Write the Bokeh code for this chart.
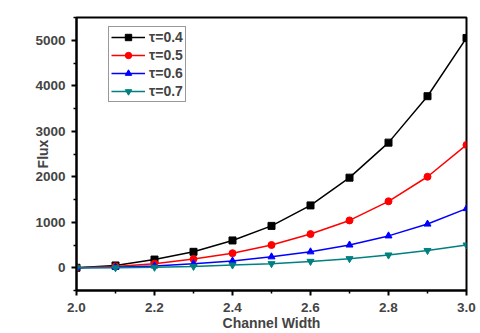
from bokeh.plotting import figure
from bokeh.models import Legend, LegendItem, Range1d, FixedTicker
from bokeh.embed import file_html
from bokeh.resources import INLINE

x = [2.0, 2.1, 2.2, 2.3, 2.4, 2.5, 2.6, 2.7, 2.8, 2.9, 3.0]
flux_04 = [0, 50, 180, 350, 600, 920, 1370, 1980, 2750, 3770, 5050]
flux_05 = [0, 30, 90, 190, 320, 500, 740, 1040, 1460, 2000, 2700]
flux_06 = [0, 10, 40, 90, 150, 240, 350, 500, 700, 960, 1300]
flux_07 = [0, 0, 10, 30, 60, 90, 140, 200, 280, 380, 500]
labels = ["τ=0.4", "τ=0.5", "τ=0.6", "τ=0.7"]
colors = ["#000000", "#ff0000", "#0000ff", "#008080"]
markers = ["square", "circle", "triangle", "inverted_triangle"]
x_ticks = [2.0, 2.2, 2.4, 2.6, 2.8, 3.0]
x_minor = [2.1, 2.3, 2.5, 2.7, 2.9]
y_ticks = [0, 1000, 2000, 3000, 4000, 5000]
y_minor = [-500, 500, 1500, 2500, 3500, 4500, 5500]

FONT = "Liberation Sans"

p = figure(width=476, height=333, output_backend="svg", toolbar_location=None,
           x_range=Range1d(2.0, 3.0), y_range=Range1d(-500, 5500),
           min_border_left=76, min_border_right=10, min_border_top=17, min_border_bottom=40)
p.background_fill_color = "white"
p.border_fill_color = "white"
p.outline_line_color = "black"
p.outline_line_width = 2
p.xgrid.visible = False
p.ygrid.visible = False

items = []
for ys, lab, c, m in zip([flux_04, flux_05, flux_06, flux_07], labels, colors, markers):
    r1 = p.line(x, ys, line_color=c, line_width=1.5)
    r2 = p.scatter(x, ys, marker=m, size=7, fill_color=c, line_color=c)
    items.append(LegendItem(label=lab, renderers=[r1, r2]))

legend = Legend(items=items, location=(32, 188))
legend.label_text_font = FONT
legend.label_text_font_style = "bold"
legend.label_text_font_size = "14px"
legend.border_line_color = "#333333"
legend.border_line_width = 1
legend.background_fill_alpha = 1
legend.glyph_width = 34
legend.glyph_height = 16
legend.label_height = 16
legend.spacing = 2
legend.padding = 2
legend.margin = 0
legend.label_standoff = 4
p.add_layout(legend)

for ax in (p.xaxis[0], p.yaxis[0]):
    ax.axis_line_width = 2
    ax.major_tick_line_width = 2
    ax.minor_tick_line_width = 1.5
    ax.major_tick_in = 0
    ax.major_tick_out = 5
    ax.minor_tick_in = 0
    ax.minor_tick_out = 3
    ax.major_label_text_font = FONT
    ax.major_label_text_font_style = "bold"
    ax.major_label_text_font_size = "13.5px"
    ax.axis_label_text_font = FONT
    ax.axis_label_text_font_style = "bold"
    ax.axis_label_text_font_size = "14px"

p.xaxis[0].ticker = FixedTicker(ticks=x_ticks, minor_ticks=x_minor)
p.xaxis.major_label_overrides = {t: f"{t:.1f}" for t in x_ticks}
p.xaxis.axis_label = "Channel Width"
p.xaxis.axis_label_standoff = 0
p.xaxis.major_label_standoff = 7

p.yaxis[0].ticker = FixedTicker(ticks=y_ticks, minor_ticks=y_minor)
p.yaxis.axis_label = "Flux"
p.yaxis.axis_label_standoff = -19
p.yaxis.major_label_standoff = 6

open("out.html", "w").write(file_html(p, INLINE))
